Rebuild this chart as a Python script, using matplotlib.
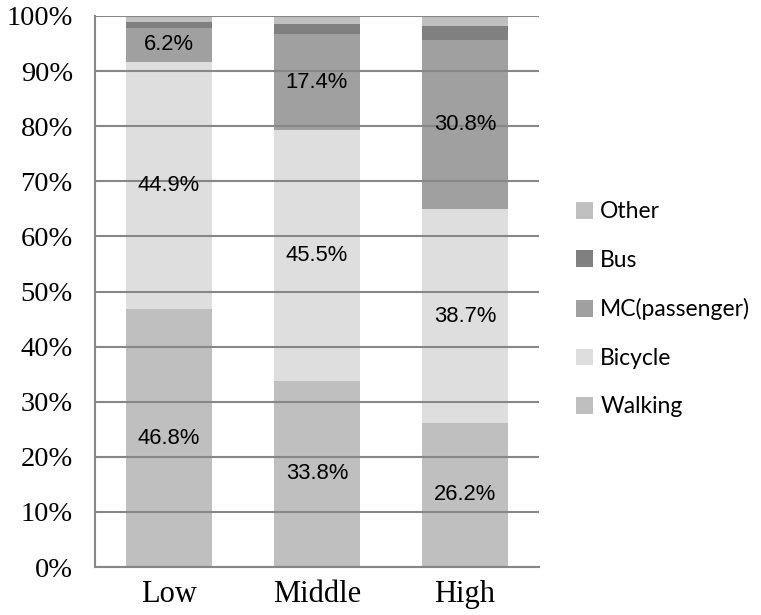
import matplotlib
matplotlib.use("Agg")
import matplotlib.pyplot as plt
from matplotlib.patches import Patch
from matplotlib.ticker import PercentFormatter

# Verkehrsmittelanteile je Einkommensgruppe (%)
gruppen = ["Low", "Middle", "High"]
walking = [46.8, 33.8, 26.2]
bicycle = [44.9, 45.5, 38.7]
mc_passenger = [6.2, 17.4, 30.8]
bus = [1.0, 1.8, 2.5]
other = [1.1, 1.5, 1.8]

serien = [
    ("Walking", walking, "#bfbfbf", True),
    ("Bicycle", bicycle, "#dedede", True),
    ("MC(passenger)", mc_passenger, "#a0a0a0", True),
    ("Bus", bus, "#808080", False),
    ("Other", other, "#c0c0c0", False),
]

GRID = "#878787"

fig = plt.figure(figsize=(7.61, 6.15), dpi=100)
ax = fig.add_axes([0.1248, 0.078, 0.5835, 0.896])

x = range(len(gruppen))
unten = [0.0] * len(gruppen)
for name, werte, farbe, beschriften in serien:
    ax.bar(x, werte, bottom=unten, width=0.575, color=farbe, zorder=1)
    if beschriften:
        for i, w in enumerate(werte):
            ax.text(i, unten[i] + w / 2, f"{w:.1f}%", ha="center", va="center",
                    fontsize=15.8, family="Liberation Sans", color="black", zorder=4)
    unten = [u + w for u, w in zip(unten, werte)]

ax.set_xlim(-0.5, 2.5)
ax.set_ylim(0, 100)
ax.set_yticks(range(0, 101, 10))
ax.yaxis.set_major_formatter(PercentFormatter(decimals=0))
ax.set_xticks(list(x))
ax.set_xticklabels(gruppen)

ax.grid(axis="y", color=GRID, linewidth=1.5, zorder=2.5)
ax.set_axisbelow(False)
for s in ["top", "right"]:
    ax.spines[s].set_visible(False)
for s in ["left", "bottom"]:
    ax.spines[s].set_color(GRID)
    ax.spines[s].set_linewidth(1.5)
    ax.spines[s].set_zorder(2.6)

ax.tick_params(axis="y", length=0, pad=16, labelsize=20.5)
ax.tick_params(axis="x", length=0, pad=9, labelsize=22)
for lbl in ax.get_xticklabels() + ax.get_yticklabels():
    lbl.set_family("Liberation Serif")

# Legende in umgekehrter Stapelreihenfolge
handles = [Patch(facecolor=f, edgecolor="none") for _, _, f, _ in serien][::-1]
labels = [n for n, _, _, _ in serien][::-1]
fig.legend(handles, labels, loc="center left", bbox_to_anchor=(0.745, 0.497),
           frameon=False, prop={"family": "Lato", "size": 16.5},
           handlelength=0.75, handleheight=0.75, handletextpad=0.3,
           labelspacing=1.2, borderaxespad=0)

fig.savefig("out.png", dpi=100)
